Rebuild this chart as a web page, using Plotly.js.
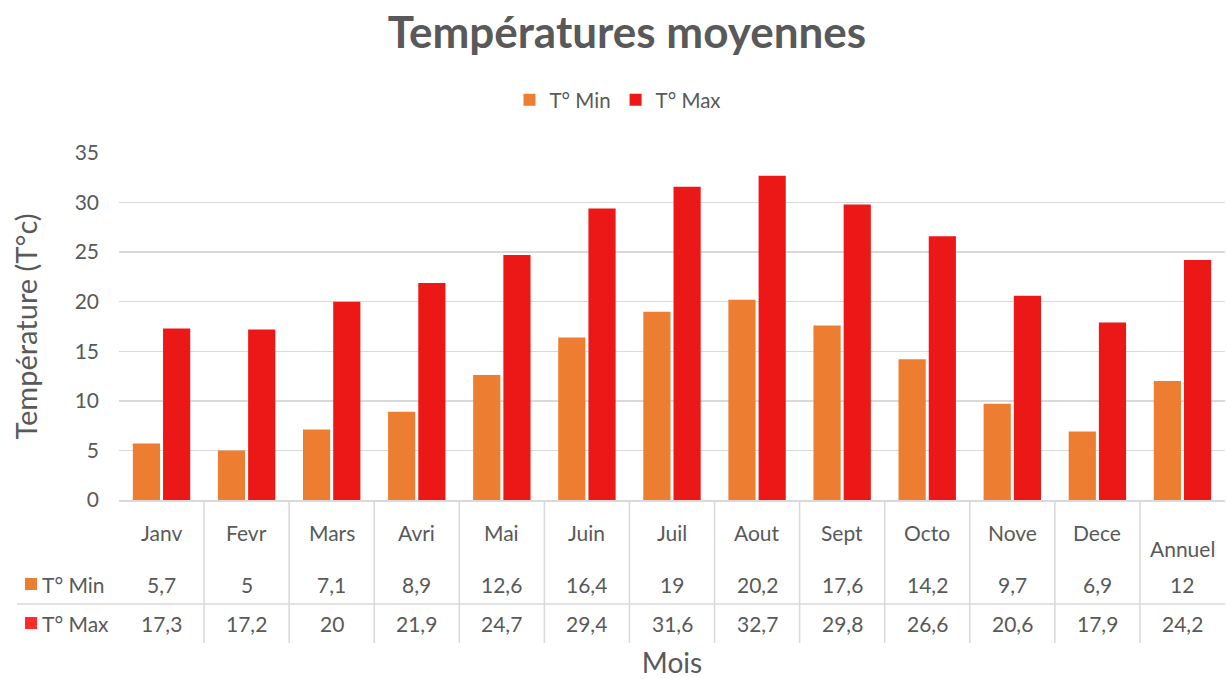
<!DOCTYPE html>
<html><head><meta charset="utf-8">
<script src="https://cdn.plot.ly/plotly-3.0.1.min.js"></script>
<style>html,body{margin:0;padding:0;background:#fff}#chart{width:1227px;height:679px}</style>
</head><body><div id="chart"></div>
<script>
const categories = ['Janv','Fevr','Mars','Avri','Mai','Juin','Juil','Aout','Sept','Octo','Nove','Dece','Annuel'];
const tMin = [5.7,5,7.1,8.9,12.6,16.4,19,20.2,17.6,14.2,9.7,6.9,12];
const tMax = [17.3,17.2,20,21.9,24.7,29.4,31.6,32.7,29.8,26.6,20.6,17.9,24.2];
const seriesNames = ['T° Min','T° Max'];

const W = 1227, H = 679, L = 119, R = 2, T = 153, B = 179;
const PW = W - L - R, PH = H - T - B;
const px = x => (x - L) / PW;
const py = y => (H - B - y) / PH;
const grey = '#595959';
const font = 'Lato, "Open Sans", sans-serif';
const fmt = v => String(v).replace('.', ',');
const tsize = 21;

const traces = [
  {type:'bar', name:seriesNames[0], x:categories, y:tMin, marker:{color:'#ED7D31'}},
  {type:'bar', name:seriesNames[1], x:categories, y:tMax, marker:{color:'#EC1818'}}
];

const shapes = [];
const annotations = [];
const n = categories.length;
for (let i = 1; i < n; i++) {
  shapes.push({type:'line', xref:'paper', yref:'paper', x0:i/n, x1:i/n, y0:0, y1:py(643), line:{color:'#D9D9D9', width:1.5}});
}
shapes.push({type:'line', xref:'paper', yref:'paper', x0:px(17), x1:1, y0:py(604), y1:py(604), line:{color:'#D9D9D9', width:1.5}});
const keyCols = ['#ED7D31','#FF2B2B'];
const rowY = [584, 623];
rowY.forEach((yy, k) => {
  shapes.push({type:'rect', xref:'paper', yref:'paper', x0:px(25), x1:px(37), y0:py(yy-6), y1:py(yy+6), line:{width:0}, fillcolor:keyCols[k]});
  annotations.push({xref:'paper', yref:'paper', x:px(40), y:py(yy), xanchor:'left', yanchor:'middle', showarrow:false, text:seriesNames[k], font:{family:font, size:tsize, color:grey}});
});
categories.forEach((c, i) => {
  const xc = (i + 0.5) / n;
  annotations.push({xref:'paper', yref:'paper', x:xc, y:py(i === n-1 ? 548 : 532), xanchor:'center', yanchor:'middle', showarrow:false, text:c, font:{family:font, size:tsize, color:grey}});
  annotations.push({xref:'paper', yref:'paper', x:xc, y:py(584), xanchor:'center', yanchor:'middle', showarrow:false, text:fmt(tMin[i]), font:{family:font, size:tsize, color:grey}});
  annotations.push({xref:'paper', yref:'paper', x:xc, y:py(623), xanchor:'center', yanchor:'middle', showarrow:false, text:fmt(tMax[i]), font:{family:font, size:tsize, color:grey}});
});

const layout = {
  width:W, height:H,
  margin:{l:L, r:R, t:T, b:B},
  paper_bgcolor:'#fff', plot_bgcolor:'#fff',
  font:{family:font, color:grey},
  title:{text:'<b>Températures moyennes</b>', x:0.511, xanchor:'center', y:1-33/H, yanchor:'middle', font:{family:font, size:44, color:grey}},
  showlegend:true,
  legend:{orientation:'h', x:px(618), xanchor:'center', y:py(100), yanchor:'middle', font:{family:font, size:20.5, color:grey}, itemwidth:30, traceorder:'normal'},
  barmode:'group', bargap:0.29, bargroupgap:0.1,
  xaxis:{type:'category', range:[-0.5, n-0.5], showticklabels:false, showgrid:false, zeroline:false, showline:true, linecolor:'#D9D9D9', linewidth:1.5, ticks:'', fixedrange:true,
         title:{text:'Mois', font:{family:font, size:28, color:grey}, standoff:154}},
  yaxis:{range:[0,35], dtick:5, showgrid:true, gridcolor:'#D9D9D9', gridwidth:1.5, zeroline:false, showline:false, ticks:'', ticklabelstandoff:19,
         tickfont:{family:font, size:21, color:grey},
         title:{text:'Température (T°c)', font:{family:font, size:29, color:grey}, standoff:28}},
  shapes, annotations
};
Plotly.newPlot('chart', traces, layout, {displayModeBar:false, staticPlot:true});
</script></body></html>
